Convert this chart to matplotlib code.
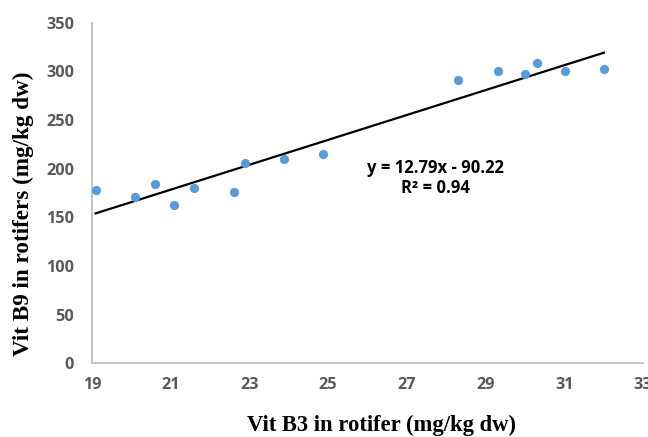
import numpy as np
import matplotlib
matplotlib.use('Agg')
import matplotlib.pyplot as plt

# Vitamin B3 vs B9 in rotifers (mg/kg dw)
vit_b3 = [19.09, 20.09, 20.59, 21.09, 21.60, 22.61, 22.89, 23.89, 24.87,
          28.31, 29.31, 30.01, 30.31, 31.01, 32.01]
vit_b9 = [178.3, 170.7, 184.1, 162.5, 180.0, 176.3, 205.7, 209.8, 215.4,
          290.8, 300.0, 297.3, 309.0, 300.0, 302.8]

slope, intercept = 12.79, -90.22
r_squared = 0.94

x_ticks = [19, 21, 23, 25, 27, 29, 31, 33]
y_ticks = [0, 50, 100, 150, 200, 250, 300, 350]

fig = plt.figure(figsize=(6.48, 4.37), dpi=100)
ax = fig.add_axes([0.142, 0.169, 0.850, 0.779])

ax.scatter(vit_b3, vit_b9, s=44, color='#5B9BD5', zorder=3, linewidths=0)

xfit = np.array([min(vit_b3), max(vit_b3)])
ax.plot(xfit, slope * xfit + intercept, color='black', linewidth=1.6, zorder=2)

eq_text = f'y = {slope:.2f}x - {abs(intercept):.2f}\nR\u00b2 = {r_squared:.2f}'
ax.text(0.623, 0.544, eq_text, transform=ax.transAxes,
        ha='center', va='center', fontsize=12, fontweight='bold',
        family='Open Sans', linespacing=1.2)

ax.set_xlim(19, 33)
ax.set_ylim(0, 350)
ax.set_xticks(x_ticks)
ax.set_yticks(y_ticks)

for side in ['top', 'right']:
    ax.spines[side].set_visible(False)
for side in ['left', 'bottom']:
    ax.spines[side].set_color('#BFBFBF')
    ax.spines[side].set_linewidth(1.3)

ax.tick_params(length=0, labelcolor='#595959')
ax.tick_params(axis='y', pad=13)
ax.tick_params(axis='x', pad=10)
for lbl in ax.get_xticklabels() + ax.get_yticklabels():
    lbl.set_fontfamily('Open Sans')
    lbl.set_fontweight('bold')
    lbl.set_fontsize(11.7)

ax.set_xlabel('Vit B3 in rotifer (mg/kg dw)', family='Liberation Serif',
              fontweight='bold', fontsize=16.3, va='center')
ax.set_ylabel('Vit B9 in rotifers (mg/kg dw)', family='Liberation Serif',
              fontweight='bold', fontsize=16.7, va='center')
ax.xaxis.set_label_coords(0.525, -0.182)
ax.yaxis.set_label_coords(-0.125, 0.439)

fig.savefig('out.png', dpi=100)
